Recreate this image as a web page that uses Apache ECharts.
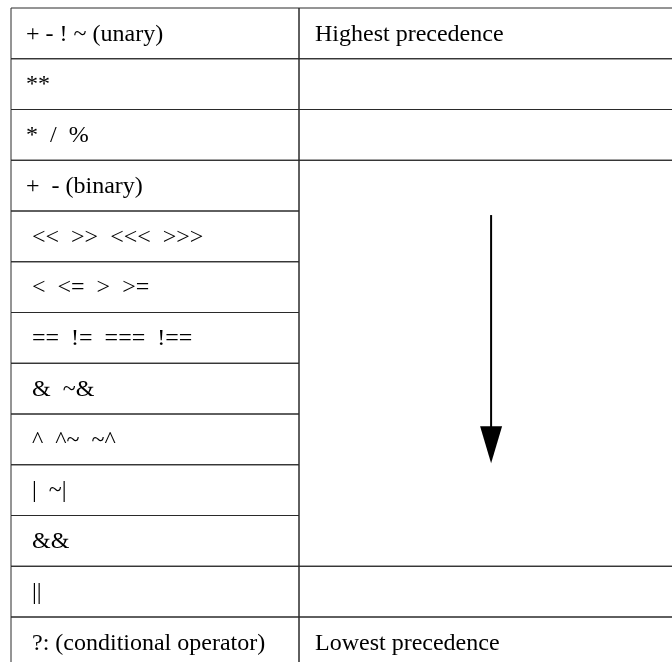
<!DOCTYPE html>
<html><head><meta charset="utf-8">
<script src="https://cdn.jsdelivr.net/npm/echarts@6/dist/echarts.min.js"></script>
<style>html,body{margin:0;padding:0;background:#fff}#c{width:672px;height:662px}</style>
</head><body><div id="c"></div>
<script>
// Left column: operators, one per row (top = highest precedence)
const operatorLabels = [
  '+ - ! ~ (unary)',
  '**',
  '*  /  %',
  '+  - (binary)',
  ' <<  >>  <<<  >>>',
  ' <  <=  >  >=',
  ' ==  !=  ===  !==',
  ' &  ~&',
  ' ^  ^~  ~^',
  ' |  ~|',
  ' &&',
  ' ||',
  ' ?: (conditional operator)'
];
// Right column cells: [text, firstRow, endRow]
const noteText  = ['Highest precedence', '', '', '', '', 'Lowest precedence'];
const noteStart = [0, 1, 2, 3, 11, 12];
const noteEnd   = [1, 2, 3, 11, 12, 13];
// Arrow in the merged cell (row units): start, head base, tip ; column position
const arrowRows = [4.08, 8.24, 8.97];
const arrowCol  = 1.667;

const FONT = '"Liberation Serif", "Times New Roman", serif';
const LINE = '#2a2a2a';
const COL_W = 288, ROW_H = 50.75, LEFT = 11, TOP = 8, W = 672, H = 662;

const chart = echarts.init(document.getElementById('c'), null, {renderer: 'canvas'});

const leftData = operatorLabels.map((t, i) => [0, i, t]);
const rightData = noteText.map((t, i) => [noteStart[i], noteEnd[i], t]);

chart.setOption({
  animation: false,
  backgroundColor: '#fff',
  grid: {left: LEFT, top: TOP, right: 0, bottom: 0, containLabel: false},
  xAxis: {type: 'value', min: 0, max: (W - LEFT) / COL_W, show: false, splitLine: {show: false}},
  yAxis: {type: 'value', min: 0, max: (H - TOP) / ROW_H, inverse: true, show: false, splitLine: {show: false}},
  series: [
    {
      type: 'custom', silent: true, clip: false,
      data: leftData,
      renderItem: function (params, api) {
        const row = api.value(1);
        const p0 = api.coord([0, row]);
        const p1 = api.coord([1, row + 1]);
        return {
          type: 'group',
          children: [
            {type: 'rect', shape: {x: p0[0], y: p0[1], width: p1[0] - p0[0], height: p1[1] - p0[1]},
             style: {fill: 'none', stroke: LINE, lineWidth: 1}},
            {type: 'text', style: {text: operatorLabels[params.dataIndex], x: p0[0] + 15, y: (p0[1] + p1[1]) / 2 + 1,
             fill: '#000', fontSize: 24, fontFamily: FONT, align: 'left', verticalAlign: 'middle'}}
          ]
        };
      }
    },
    {
      type: 'custom', silent: true, clip: false,
      data: rightData,
      renderItem: function (params, api) {
        const s = api.value(0), e = api.value(1);
        const p0 = api.coord([1, s]);
        const p1 = api.coord([2.5, e]);
        return {
          type: 'group',
          children: [
            {type: 'rect', shape: {x: p0[0], y: p0[1], width: p1[0] - p0[0], height: p1[1] - p0[1]},
             style: {fill: 'none', stroke: LINE, lineWidth: 1}},
            {type: 'text', style: {text: noteText[params.dataIndex], x: p0[0] + 16, y: p0[1] + ROW_H / 2 + 1,
             fill: '#000', fontSize: 24, fontFamily: FONT, align: 'left', verticalAlign: 'middle'}}
          ]
        };
      }
    },
    {
      type: 'custom', silent: true, clip: false,
      data: [[arrowCol, arrowRows[0], arrowRows[1], arrowRows[2]]],
      renderItem: function (params, api) {
        const a = api.coord([api.value(0), api.value(1)]);
        const b = api.coord([api.value(0), api.value(2)]);
        const c = api.coord([api.value(0), api.value(3)]);
        return {
          type: 'group',
          children: [
            {type: 'line', shape: {x1: a[0], y1: a[1], x2: b[0], y2: b[1] + 2},
             style: {stroke: '#000', lineWidth: 2}},
            {type: 'polygon', shape: {points: [[b[0] - 11, b[1]], [b[0] + 11, b[1]], [c[0], c[1]]]},
             style: {fill: '#000'}}
          ]
        };
      }
    }
  ]
});
</script>
</body></html>
